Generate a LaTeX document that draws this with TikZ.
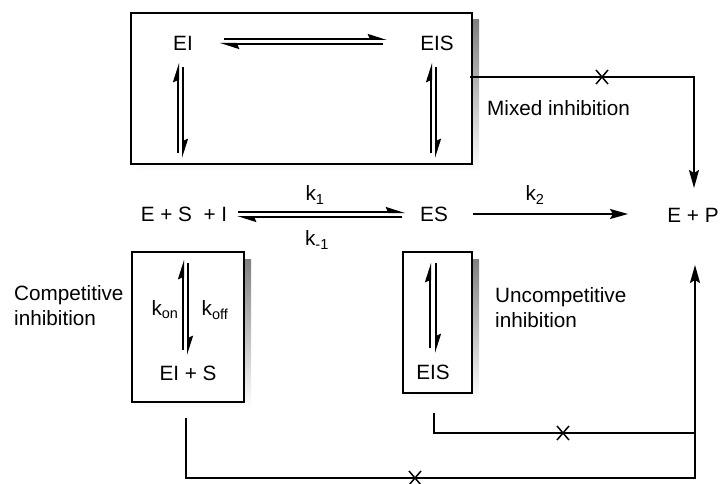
\documentclass[tikz,border=0pt]{standalone}
\usepackage{fontspec}
\setmainfont{Liberation Sans}
\usetikzlibrary{arrows.meta}
\definecolor{shade}{HTML}{C4C4C4}
\tikzset{
  lbl/.style={inner sep=0pt, font=\fontsize{20.7}{25}\selectfont},
  ln/.style={line width=2pt},
  harp/.style={ln, -{Stealth[harpoon, length=16pt, width=10pt, inset=2pt]}},
  fwd/.style={ln, -{Stealth[length=18pt, width=10pt, inset=3pt]}},
  panel/.style={draw, line width=2pt, fill=white},
  cross/.style={line width=1.5pt},
}
% framed panel with a grey drop shadow: left, top, right, bottom
\newcommand{\shadowbox}[4]{%
  \fill[shade] (#1+7,#2+7) rectangle (#3+7,#4+7);
  \draw[panel] (#1,#2) rectangle (#3,#4);
}
\begin{document}
\begin{tikzpicture}[x=1pt, y=-1pt]
\useasboundingbox (0,0) rectangle (723,484);

% panels
\shadowbox{131}{13}{472}{164}
\shadowbox{132}{252}{244}{402}
\shadowbox{403}{252}{472}{393}

% species
\node[lbl] (ei)   at (183,43)  {EI};
\node[lbl] (eis)  at (437,43)  {EIS};
\node[lbl] (esi)  at (184,214) {E + S\ \ + I};
\node[lbl] (es)   at (434,214) {ES};
\node[lbl] (ep)   at (693,215) {E + P};
\node[lbl] (eis2) at (188,373) {EI + S};
\node[lbl] (eis3) at (433,372) {EIS};

% rate constants
\node[lbl] (k1)   at (315,195) {k\textsubscript{1}};
\node[lbl] (km1)  at (317,240) {k\textsubscript{-1}};
\node[lbl] (k2)   at (535,195) {k\textsubscript{2}};
\node[lbl] (kon)  at (165,310) {k\textsubscript{on}};
\node[lbl] (koff) at (215,310) {k\textsubscript{off}};

% captions
\node[lbl, anchor=west] (mix) at (487,108) {Mixed inhibition};
\node[lbl, anchor=west, align=left] (comp) at (14,306) {Competitive\\inhibition};
\node[lbl, anchor=west, align=left] (unc) at (495,308) {Uncompetitive\\inhibition};

% EI <=> EIS
\draw[harp] (224,39) -- (387,39);
\draw[harp] (383,44) -- (220,44);
% EI column
\draw[harp] (178,153) -- (178,63);
\draw[harp] (183,67)  -- (183,158);
% EIS column
\draw[harp] (431,153) -- (431,63);
\draw[harp] (436,67)  -- (436,158);

% E + S + I <=> ES
\draw[harp] (238,212) -- (405,212);
\draw[harp] (402,217) -- (237,217);
% ES -> E + P
\draw[fwd] (473,214) -- (628,214);

% competitive panel
\draw[harp] (183,350) -- (183,260);
\draw[harp] (188,263) -- (188,355);
% uncompetitive panel
\draw[harp] (430,348) -- (430,263);
\draw[harp] (436,263) -- (436,353);

% blocked routes to product
\coordinate (mx0) at (470,77);
\coordinate (mx1) at (694,77);
\coordinate (mx2) at (694,188);
\draw[fwd] (mx0) -- (mx1) -- (mx2);

\coordinate (u0) at (434,413);
\coordinate (u1) at (434,433);
\coordinate (u2) at (695,433);
\draw[ln] (u0) -- (u1) -- (u2);

\coordinate (c0) at (186,418);
\coordinate (c1) at (186,478);
\coordinate (c2) at (695,478);
\coordinate (c3) at (695,265);
\draw[fwd] (c0) -- (c1) -- (c2) -- (c3);

% crosses on the blocked routes
\foreach \cx/\cy in {602/77, 563/433, 415/478}
  \draw[cross] (\cx-6,\cy-7) -- (\cx+6,\cy+7) (\cx-6,\cy+7) -- (\cx+6,\cy-7);
\end{tikzpicture}
\end{document}
